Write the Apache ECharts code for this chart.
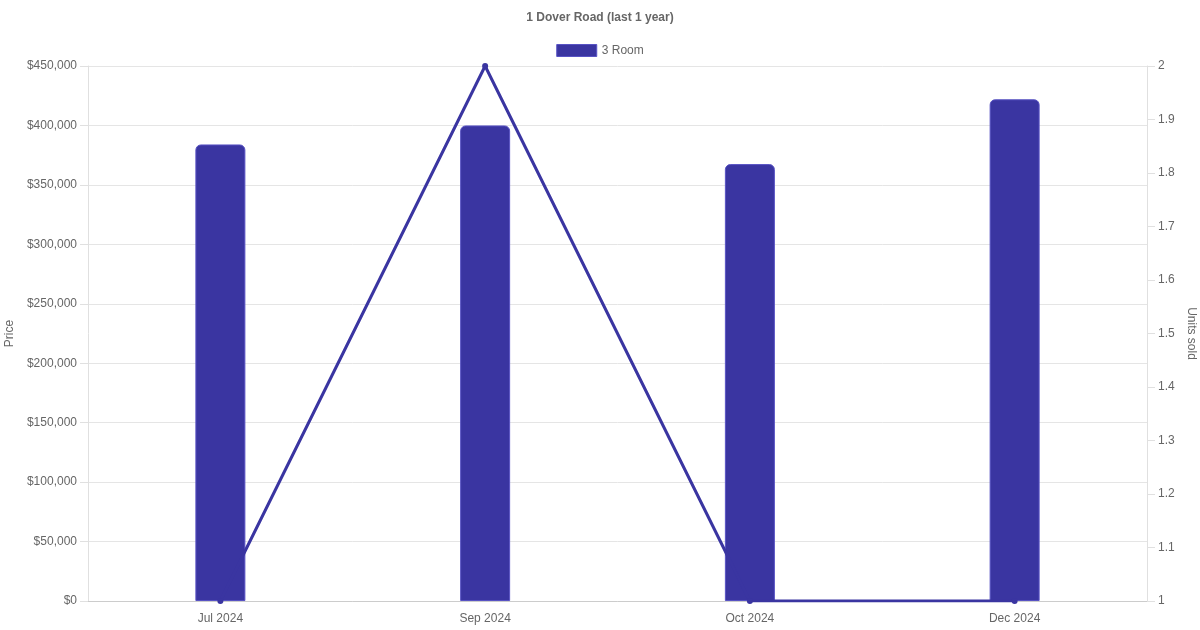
<!DOCTYPE html>
<html>
<head>
<meta charset="utf-8">
<title>1 Dover Road</title>
<script src="https://cdn.jsdelivr.net/npm/echarts@6/dist/echarts.min.js"></script>
<style>
  html, body { margin: 0; padding: 0; background: #fff; }
  #chart { width: 1200px; height: 630px; }
</style>
</head>
<body>
<div id="chart"></div>
<script>
// months with transactions
const months = ['Jul 2024', 'Sep 2024', 'Oct 2024', 'Dec 2024'];
// average price, 3 Room
const prices = [384000, 400000, 367500, 422000];
// units sold
const unitsSold = [1, 2, 1, 1];
const priceTicks = { min: 0, max: 450000, interval: 50000 };
const unitTicks = { min: 1, max: 2, interval: 0.1 };

const mainColor = '#3a35a1';
const textColor = '#666';
const font = '"Liberation Sans", Arial, sans-serif';

const chart = echarts.init(document.getElementById('chart'), null, { renderer: 'canvas' });

const option = {
  backgroundColor: '#ffffff',
  animation: false,
  textStyle: { fontFamily: font },
  title: {
    text: '1 Dover Road (last 1 year)',
    left: 'center',
    top: 7,
    textStyle: { fontSize: 12, fontWeight: 'bold', color: textColor, fontFamily: font }
  },
  legend: {
    data: ['3 Room'],
    top: 39,
    left: 'center',
    icon: 'rect',
    itemWidth: 40,
    itemHeight: 12,
    itemGap: 10,
    itemStyle: { borderWidth: 1, borderColor: '#5853c4' },
    textStyle: { fontSize: 12, color: textColor, fontFamily: font }
  },
  grid: { left: 88, right: 53, top: 66, bottom: 29, containLabel: false, outerBoundsMode: 'none' },
  xAxis: {
    type: 'category',
    data: months,
    axisLine: { lineStyle: { color: '#ccc' } },
    axisTick: { show: false },
    axisLabel: { color: textColor, fontSize: 12, margin: 12, fontFamily: font },
    splitLine: { show: false }
  },
  yAxis: [{
    type: 'value',
    name: 'Price',
    nameLocation: 'middle',
    nameGap: 69,
    nameTextStyle: { color: textColor, fontSize: 12, fontFamily: font },
    min: priceTicks.min,
    max: priceTicks.max,
    interval: priceTicks.interval,
    axisLine: { show: true, lineStyle: { color: '#e0e0e0' } },
    axisTick: { show: true, length: 8, lineStyle: { color: '#e0e0e0' } },
    axisLabel: {
      color: textColor, fontSize: 12, margin: 11, fontFamily: font,
      formatter: v => '$' + v.toLocaleString('en-US')
    },
    splitLine: { lineStyle: { color: '#e5e5e5' } }
  }, {
    type: 'value',
    name: 'Units sold',
    nameLocation: 'middle',
    nameRotate: -90,
    nameGap: 33,
    nameTextStyle: { color: textColor, fontSize: 12, fontFamily: font },
    min: unitTicks.min,
    max: unitTicks.max,
    interval: unitTicks.interval,
    position: 'right',
    axisLine: { show: true, lineStyle: { color: '#e0e0e0' } },
    axisTick: { show: true, length: 8, lineStyle: { color: '#e0e0e0' } },
    axisLabel: { color: textColor, fontSize: 12, margin: 11, fontFamily: font },
    splitLine: { show: false }
  }],
  series: [{
    name: '3 Room',
    type: 'bar',
    data: prices,
    barWidth: 50,
    itemStyle: {
      color: mainColor,
      borderColor: '#5853c4',
      borderWidth: 1,
      borderRadius: [5, 5, 0, 0]
    }
  }, {
    name: 'Units sold',
    type: 'line',
    yAxisIndex: 1,
    data: unitsSold,
    symbol: 'circle',
    symbolSize: 6,
    lineStyle: { color: mainColor, width: 3 },
    itemStyle: { color: mainColor },
    z: 5
  }]
};

chart.setOption(option);
</script>
</body>
</html>
